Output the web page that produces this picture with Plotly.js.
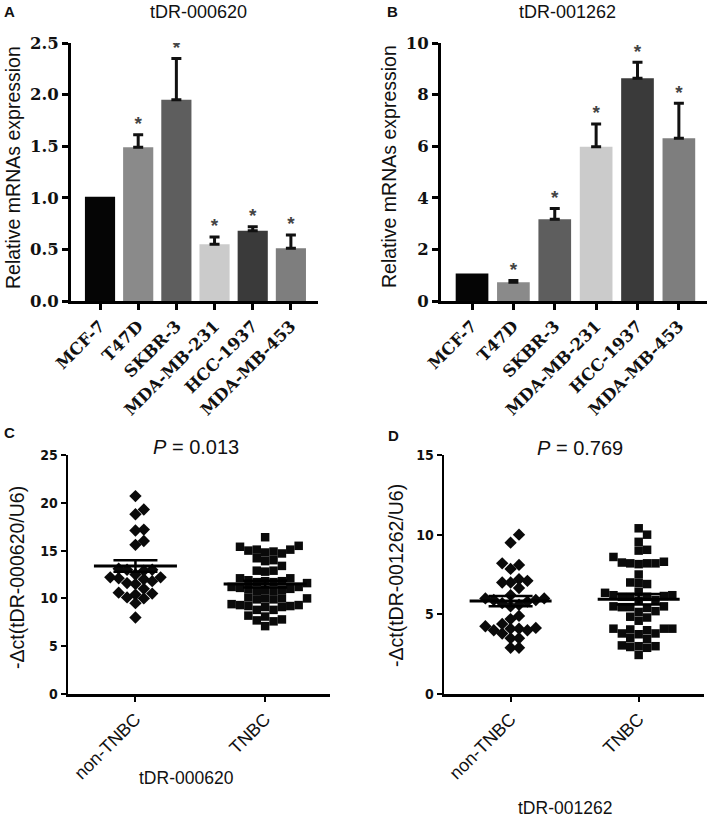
<!DOCTYPE html>
<html>
<head>
<meta charset="utf-8">
<script src="https://cdn.plot.ly/plotly-3.0.1.min.js"></script>
<style>html,body{margin:0;padding:0;background:#fff;}#chart{width:709px;height:818px;}</style>
</head>
<body>
<div id="chart"></div>
<script>
// ---------- DATA ----------
const cellLines = ['MCF-7', 'T47D', 'SKBR-3', 'MDA-MB-231', 'HCC-1937', 'MDA-MB-453'];
const exprA = [1.01, 1.49, 1.95, 0.55, 0.68, 0.51];
const errA  = [null, 0.12, 0.40, 0.07, 0.04, 0.13];
const starsA = ['', '*', '*', '*', '*', '*'];
const exprB = [1.07, 0.73, 3.17, 5.98, 8.63, 6.31];
const errB  = [null, 0.06, 0.42, 0.88, 0.62, 1.35];
const starsB = ['', '*', '*', '*', '*', '*'];
const barColors = ['#050505', '#8a8a8a', '#5e5e5e', '#cbcbcb', '#3a3a3a', '#7e7e7e'];

const groups = ['non-TNBC', 'TNBC'];
const c_nonTNBC = [20.7, 19.3, 18.8, 17.2, 17.1, 16.0, 15.6, 13.1, 13.0, 12.9, 13.0, 12.5, 12.2, 12.1, 12.0,
  12.2, 11.8, 11.5, 11.6, 11.0, 10.5, 10.4, 10.6, 10.0, 10.1, 9.5, 8.0];
const c_TNBC = [16.4, 15.5, 15.4, 15.1, 15.1, 15.0, 14.9, 14.8, 14.7, 14.2, 14.0, 13.9, 13.4, 12.9, 12.9, 12.8,
  12.1, 12.1, 11.9, 11.8, 11.8, 11.7, 11.7, 11.6, 11.2, 11.2, 11.1, 11.0, 11.0, 10.9, 10.9, 10.8, 10.8,
  10.1, 10.0, 10.0, 10.0, 9.9, 9.9, 9.4, 9.3, 9.3, 9.2, 9.2, 9.1, 9.1, 8.8, 8.8, 8.2, 8.1, 7.8, 7.7, 7.6, 7.1];
const c_mean = [13.4, 11.5];
const c_sem = [0.6, 0.35];
const d_nonTNBC = [10.0, 9.5, 8.2, 8.1, 7.85, 7.2, 7.1, 7.0, 7.0, 6.65, 6.2, 6.0, 6.0, 5.9, 5.9, 5.8, 5.7, 5.6,
  5.5, 4.9, 4.7, 4.25, 4.15, 4.1, 4.0, 4.0, 4.1, 4.4, 3.8, 3.5, 3.5, 2.9, 2.9];
const d_TNBC = [10.4, 10.0, 9.55, 9.05, 9.0, 8.6, 8.3, 8.2, 8.2, 8.2, 8.15, 8.25, 7.5, 7.0, 6.95, 6.9, 6.4, 6.35,
  6.2, 6.2, 6.15, 6.1, 6.1, 6.1, 5.9, 5.85, 5.5, 5.5, 5.45, 5.45, 5.4, 5.2, 5.15, 4.85, 4.8, 4.6, 4.1, 4.1,
  4.05, 4.0, 4.1, 3.8, 3.75, 3.8, 3.5, 3.45, 3.0, 3.0, 2.95, 2.9, 3.05, 2.45];
const d_mean = [5.83, 5.95];
const d_sem = [0.32, 0.33];

// ---------- LAYOUT HELPERS ----------
const W = 709, H = 818;
const fx = p => p / W;
const fy = p => 1 - p / H;
const SANS = 'Liberation Sans, Arial, sans-serif';
const SERIF = 'DejaVu Serif, serif';
const NARROW = 'Liberation Sans Narrow, DejaVu Sans Condensed, sans-serif';

function swarm(values, sx, sy, step, diam) {
  const idx = values.map((v, i) => i).sort((a, b) => values[a] - values[b]);
  const placed = [];
  const off = new Array(values.length).fill(0);
  for (const i of idx) {
    const ypx = values[i] * sy;
    for (let k = 0; k < 400; k++) {
      const m = k === 0 ? 0 : (k % 2 ? Math.ceil(k / 2) : -Math.ceil(k / 2));
      const xpx = m * step;
      if (placed.every(p => Math.abs(p.x - xpx) >= diam - 0.01 || Math.abs(p.y - ypx) >= diam)) {
        placed.push({x: xpx, y: ypx});
        off[i] = xpx / sx;
        break;
      }
    }
  }
  return off;
}

const traces = [];
function barPanel(vals, errs, stars, xa, ya) {
  traces.push({
    type: 'bar', x: cellLines, y: vals, xaxis: xa, yaxis: ya,
    marker: {color: barColors, line: {width: 0}},
    hoverinfo: 'skip', showlegend: false
  });
  // error bars only for entries that have an error value
  const xe = [], ye = [], ee = [];
  errs.forEach((e, i) => { if (e !== null) { xe.push(cellLines[i]); ye.push(vals[i]); ee.push(e); } });
  traces.push({
    type: 'scatter', mode: 'markers', x: xe, y: ye, xaxis: xa, yaxis: ya,
    marker: {size: 1, color: 'rgba(0,0,0,0)'},
    error_y: {type: 'data', symmetric: false, array: ee, arrayminus: ee.map(() => 0),
      color: '#111', thickness: 3, width: 5},
    hoverinfo: 'skip', showlegend: false
  });
  traces.push({
    type: 'scatter', mode: 'text', x: cellLines, y: vals.map((v, i) => v + (errs[i] || 0)),
    text: stars, textposition: 'top center', xaxis: xa, yaxis: ya,
    textfont: {family: SANS, size: 19, color: '#444', weight: 'bold'},
    hoverinfo: 'skip', showlegend: false
  });
}
barPanel(exprA, errA, starsA, 'x', 'y');
barPanel(exprB, errB, starsB, 'x2', 'y2');

function dotPanel(g1, g2, means, sems, xa, ya, sx, sy) {
  const sets = [g1, g2];
  const symbols = ['diamond', 'square'];
  const sizes = [9.5, 8.5];
  sets.forEach((vals, gi) => {
    const off = swarm(vals, sx, sy, 8.4, 8.2);
    traces.push({
      type: 'scatter', mode: 'markers', xaxis: xa, yaxis: ya,
      x: vals.map((v, i) => gi + off[i]), y: vals,
      marker: {symbol: symbols[gi], size: sizes[gi], color: '#0a0a0a', line: {width: 0}},
      hoverinfo: 'skip', showlegend: false
    });
  });
  means.forEach((m, gi) => {
    traces.push({
      type: 'scatter', mode: 'lines', xaxis: xa, yaxis: ya,
      x: [gi - 0.32, gi + 0.32], y: [m, m],
      line: {color: '#000', width: 3}, hoverinfo: 'skip', showlegend: false
    });
    traces.push({
      type: 'scatter', mode: 'markers', xaxis: xa, yaxis: ya,
      x: [gi], y: [m], marker: {size: 1, color: 'rgba(0,0,0,0)'},
      error_y: {type: 'data', array: [sems[gi]], color: '#000', thickness: 2.5, width: 22},
      hoverinfo: 'skip', showlegend: false
    });
  });
}
dotPanel(c_nonTNBC, c_TNBC, c_mean, c_sem, 'x3', 'y3', 130, 9.56);
dotPanel(d_nonTNBC, d_TNBC, d_mean, d_sem, 'x4', 'y4', 128, 15.93);

const baseAxis = {
  showgrid: false, zeroline: false, showline: true, linecolor: '#000', linewidth: 3,
  ticks: 'outside', ticklen: 6, tickwidth: 3, tickcolor: '#000', fixedrange: true
};
const barXFont = {family: SERIF, size: 16.5, color: '#111', weight: 'bold'};
const barYFont = {family: SERIF, size: 16.5, color: '#111', weight: 'bold'};
const dotXFont = {family: SANS, size: 18, color: '#111'};
const dotYFont = {family: NARROW, size: 14, color: '#111', weight: 'bold'};

const layout = {
  width: W, height: H, margin: {l: 0, r: 0, t: 0, b: 0},
  paper_bgcolor: '#fff', plot_bgcolor: 'rgba(0,0,0,0)',
  showlegend: false, bargap: 0.21,
  xaxis: Object.assign({}, baseAxis, {domain: [fx(71), fx(318)], anchor: 'y', type: 'category',
    range: [-0.76, 5.71], tickangle: -45, tickfont: barXFont}),
  yaxis: Object.assign({}, baseAxis, {domain: [fy(301), fy(43)], anchor: 'x', range: [0, 2.5],
    tickvals: [0, 0.5, 1, 1.5, 2, 2.5], tickformat: '.1f', tickfont: barYFont}),
  xaxis2: Object.assign({}, baseAxis, {domain: [fx(441), fx(707)], anchor: 'y2', type: 'category',
    range: [-0.75, 5.68], tickangle: -45, tickfont: barXFont}),
  yaxis2: Object.assign({}, baseAxis, {domain: [fy(301), fy(43)], anchor: 'x2', range: [0, 10],
    tickvals: [0, 2, 4, 6, 8, 10], tickfont: barYFont}),
  xaxis3: Object.assign({}, baseAxis, {domain: [fx(68), fx(330)], anchor: 'y3', range: [-0.52, 1.5],
    tickvals: [0, 1], ticktext: groups, tickangle: -45, tickfont: dotXFont, linewidth: 2.5, tickwidth: 2, ticklen: 5}),
  yaxis3: Object.assign({}, baseAxis, {domain: [fy(694), fy(455)], anchor: 'x3', range: [0, 25],
    tickvals: [0, 5, 10, 15, 20, 25], tickfont: dotYFont, linewidth: 2.5, tickwidth: 2, ticklen: 5}),
  xaxis4: Object.assign({}, baseAxis, {domain: [fx(444), fx(704)], anchor: 'y4', range: [-0.52, 1.51],
    tickvals: [0, 1], ticktext: groups, tickangle: -45, tickfont: dotXFont, linewidth: 2.5, tickwidth: 2, ticklen: 5}),
  yaxis4: Object.assign({}, baseAxis, {domain: [fy(694), fy(455)], anchor: 'x4', range: [0, 15],
    tickvals: [0, 5, 10, 15], tickfont: dotYFont, linewidth: 2.5, tickwidth: 2, ticklen: 5}),
  annotations: []
};

function note(text, x, y, size, opts) {
  layout.annotations.push(Object.assign({
    text: text, xref: 'paper', yref: 'paper', x: fx(x), y: fy(y),
    xanchor: 'center', yanchor: 'middle', showarrow: false,
    font: {family: SANS, size: size, color: '#111'}
  }, opts || {}));
}
const boldLbl = {font: {family: SANS, size: 15, color: '#111', weight: 'bold'}};
note('A', 9, 12, 15, boldLbl);
note('B', 392, 12, 15, boldLbl);
note('C', 9, 432, 15, boldLbl);
note('D', 393, 435, 15, boldLbl);
note('tDR-000620', 198, 12, 18);
note('tDR-001262', 567, 12, 18);
note('Relative mRNAs expression', 13, 168, 19.5, {textangle: -90});
note('Relative mRNAs expression', 389, 167, 19.5, {textangle: -90});
note('-\u0394ct(tDR-000620/U6)', 17, 578, 19.5, {textangle: -90});
note('-\u0394ct(tDR-001262/U6)', 396, 576, 19.5, {textangle: -90});
note('<i>P</i> = 0.013', 196, 447, 20);
note('<i>P</i> = 0.769', 580, 448, 20);
note('tDR-000620', 187, 778, 17.5);
note('tDR-001262', 565, 808, 17.5);

Plotly.newPlot('chart', traces, layout, {displayModeBar: false, staticPlot: true});
</script>
</body>
</html>
